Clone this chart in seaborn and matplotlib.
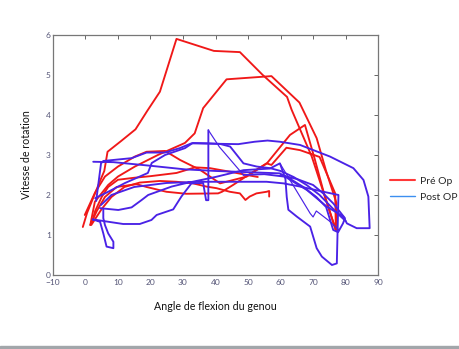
import numpy as np
import pandas as pd
import seaborn as sns
import matplotlib
matplotlib.use("Agg")
import matplotlib.pyplot as plt
from matplotlib.lines import Line2D
from matplotlib.patches import Rectangle

# ---------------- data ----------------
# Pré Op cycles
pre1_x = [-0.8, 0.5, 2.5, 4.5, 5.8, 6.8, 11, 15.4, 19, 22.9, 28, 39.5, 47.5, 54.5, 62, 63.4, 69.6, 77,
          76.8, 72, 66, 61.8, 57.2, 55.7, 51.6, 45.4, 42, 40.8, 31, 24.9, 18.8, 15.7, 9.6, 6, 3.5, 1.5]
pre1_y = [1.2, 1.55, 1.95, 2.35, 2.6, 3.08, 3.35, 3.64, 4.1, 4.58, 5.9, 5.6, 5.57, 5.0, 4.45, 4.13, 2.96, 1.12,
          2.04, 2.95, 3.12, 3.18, 2.75, 2.79, 2.58, 2.25, 2.08, 2.04, 2.03, 2.08, 2.2, 2.27, 2.2, 1.95, 1.6, 1.25]
pre2_x = [1.5, 2.9, 7, 10, 15.2, 22.3, 30.6, 33.6, 36.2, 43.4, 57.2, 65.8, 71.1, 74, 77.2, 77]
pre2_y = [1.25, 1.83, 2.25, 2.46, 2.71, 3.0, 3.3, 3.54, 4.17, 4.89, 4.97, 4.31, 3.42, 2.6, 1.8, 1.12]
pre3_x = [-0.2, 2.9, 6, 10, 15.2, 18.8, 24.5, 29.1, 35.2, 41.4, 49.6, 55.8, 62.9, 67.5, 70.5, 73.5, 77]
pre3_y = [1.5, 2.05, 2.46, 2.71, 2.96, 3.08, 3.1, 2.875, 2.63, 2.29, 2.46, 2.79, 3.5, 3.75, 2.9, 2.0, 1.12]
pre4_x = [56.5, 56.5, 55.7, 52.6, 50.5, 49.2, 47.5, 44.4, 40.3, 37.2, 33.1, 28, 22.9, 16.7, 12, 8, 5, 3, 1.8,
          3, 5, 7, 10, 15, 20, 28, 33.7, 38.3, 44.5, 49.6, 53]
pre4_y = [1.96, 2.1, 2.08, 2.04, 1.96, 1.875, 2.04, 2.08, 2.17, 2.21, 2.29, 2.33, 2.35, 2.31, 2.2, 1.95, 1.65, 1.4, 1.25,
          1.6, 1.95, 2.2, 2.38, 2.43, 2.47, 2.55, 2.69, 2.67, 2.58, 2.5, 2.45]

# Post OP cycles
post1_x = [3.3, 4.8, 5.5, 14.2, 18.8, 24.4, 29, 32.6, 40, 47, 52, 56, 59.8, 66, 75.2, 82.4, 85.5, 87, 87.4, 83.4,
           80.4, 79.3, 74.2, 68.1, 63.9, 59.8, 50, 40, 30.6, 20, 8.6, 2.4]
post1_y = [1.85, 2.79, 2.85, 2.92, 3.06, 3.06, 3.17, 3.29, 3.28, 3.27, 3.33, 3.36, 3.33, 3.25, 2.96, 2.67, 2.375, 1.96,
           1.17, 1.17, 1.29, 1.46, 1.71, 2.125, 2.33, 2.54, 2.57, 2.6, 2.64, 2.73, 2.82, 2.83]
post2_x = [3.0, 7.0, 12.2, 19.2, 20.4, 24.5, 30.6, 33, 38, 41.4, 44.5, 48.6, 52.7, 56.8, 60, 64, 68, 72, 75, 78, 80]
post2_y = [1.92, 2.08, 2.3, 2.55, 2.8, 3.0, 3.17, 3.3, 3.29, 3.275, 3.21, 2.79, 2.71, 2.67, 2.6, 2.45, 2.25, 2.0, 1.75, 1.5, 1.35]
post3_x = [4.5, 10.1, 14.2, 17.3, 19.3, 26.5, 30.6, 40, 48.6, 56.7, 59.8, 61.5, 61.9, 62.4, 65, 69.1, 71.1, 72.7,
           75.8, 77.3, 77.8, 73.2, 66, 60.9, 55.7, 48.6, 35.2, 25, 15, 8, 4.8]
post3_y = [1.67, 1.625, 1.69, 1.875, 2.0, 2.21, 2.29, 2.45, 2.62, 2.66, 2.79, 2.4, 1.95, 1.63, 1.46, 1.21, 0.67, 0.46,
           0.25, 0.29, 2.0, 2.08, 2.21, 2.29, 2.33, 2.33, 2.33, 2.3, 2.2, 2.0, 1.75]
post4_x = [5.5, 5.5, 6.0, 7.0, 8.6, 8.6, 6.5, 5.5, 4.5, 2.2, 11.6, 16.7, 20.3, 21.9, 27, 29.5, 32.6, 36.2, 37.1, 37.8, 37.8]
post4_y = [1.65, 1.42, 1.25, 1.04, 0.83, 0.67, 0.71, 1.04, 1.33, 1.39, 1.275, 1.275, 1.375, 1.5, 1.64, 1.96, 2.29, 2.3, 1.87, 1.87, 3.62]
post4b_x = [37.8, 41.2, 48.6]
post4b_y = [3.62, 3.2, 2.5]
post4c_x = [48.6, 55, 62, 67, 71, 74, 76.2, 77.7, 79.2, 79.8, 76.2, 73.1, 70, 65, 60]
post4c_y = [2.5, 2.52, 2.45, 2.2, 1.95, 1.7, 1.125, 1.07, 1.29, 1.42, 1.79, 2.04, 2.25, 2.4, 2.5]
post5_x = [59.8, 69.1, 70.0, 71.0, 75.0, 78.0]
post5_y = [2.79, 1.54, 1.45, 1.6, 1.35, 1.12]

pre_series = [(pre1_x, pre1_y), (pre2_x, pre2_y), (pre3_x, pre3_y), (pre4_x, pre4_y)]
post_thick = [(post1_x, post1_y), (post2_x, post2_y), (post3_x, post3_y), (post4_x, post4_y), (post4c_x, post4c_y)]
post_thin = [(post4b_x, post4b_y), (post5_x, post5_y)]

x_ticks = list(range(-10, 91, 10))
y_ticks = list(range(0, 7))

# ---------------- plotting ----------------
sns.set_theme(style="white")
plt.rcParams['font.family'] = ['Lato', 'DejaVu Sans']

RED = "#f01818"
BLUE = "#4a22e6"

def to_df(series, group):
    rows = []
    for k, (xs, ys) in enumerate(series):
        for i, (a, b) in enumerate(zip(xs, ys)):
            rows.append({"angle": a, "speed": b, "cycle": f"{group}{k}", "order": i})
    return pd.DataFrame(rows)

fig = plt.figure(figsize=(4.6, 3.49), dpi=100)
ax = fig.add_axes([0.115, 0.212, 0.707, 0.688])

for df, col, lw in [(to_df(pre_series, "pre"), RED, 1.35),
                    (to_df(post_thick, "pt"), BLUE, 1.35),
                    (to_df(post_thin, "pn"), BLUE, 0.85)]:
    sns.lineplot(data=df, x="angle", y="speed", units="cycle", estimator=None,
                 sort=False, color=col, linewidth=lw, ax=ax, legend=False)

ax.set_xlim(-10, 90)
ax.set_ylim(0, 6)
ax.set_xticks(x_ticks)
ax.set_yticks(y_ticks)
ax.tick_params(direction="in", length=3, width=0.7, colors="#666666", labelsize=6,
               labelcolor="#555577", top=True, right=True)
ax.tick_params(axis="x", pad=3)
ax.tick_params(axis="y", pad=1.5)
for s in ax.spines.values():
    s.set_color("#777777")
    s.set_linewidth(0.9)
ax.set_xlabel("Angle de flexion du genou", fontsize=7.7, labelpad=11, color="#111111")
ax.set_ylabel("Vitesse de rotation", fontsize=7.7, labelpad=10, color="#111111")

handles = [Line2D([], [], color="#ff3838", lw=1.5), Line2D([], [], color="#3d8ff0", lw=1.0)]
fig.legend(handles, ["Pré Op", "Post OP"], loc="center left", bbox_to_anchor=(0.84, 0.458),
           frameon=False, fontsize=7.5, handlelength=2.4, handletextpad=0.5, labelspacing=0.6,
           borderaxespad=0, borderpad=0.3)

fig.patches.append(Rectangle((0, 0), 1, 3.5 / 349, transform=fig.transFigure,
                             color="#a2a6aa", zorder=10))

fig.savefig("out.png", dpi=100)
